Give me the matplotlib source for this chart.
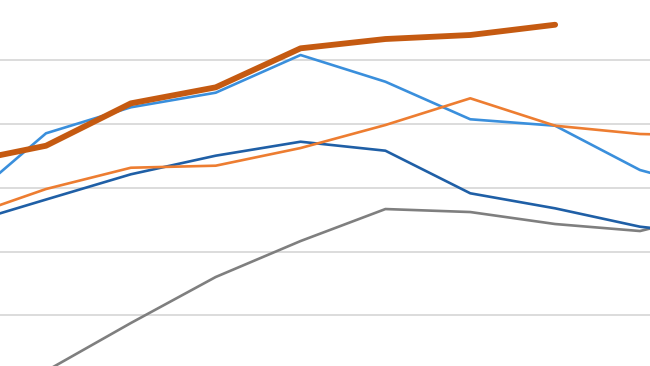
import numpy as np
import matplotlib
matplotlib.use("Agg")
import matplotlib.pyplot as plt

# category positions (the chart is cropped: first and last fall outside the view)
periods = np.arange(10)

gray_vals = [np.nan, 12.6, 87.9, 160.1, 216.5, 266.7, 262.0, 243.2, 232.2, 265.2]
dark_blue_vals = [241.6, 281.6, 321.2, 350.4, 372.3, 358.2, 291.4, 267.8, 239.0, 224.4]
orange_vals = [251.8, 298.1, 331.5, 334.7, 362.4, 398.5, 440.4, 397.4, 384.4, 381.3]
light_blue_vals = [271.5, 385.5, 426.3, 449.2, 508.3, 466.4, 407.5, 397.4, 327.9, 291.8]
thick_orange_vals = [338.9, 366.0, 432.5, 457.6, 518.8, 533.4, 539.7, 555.8, np.nan, np.nan]

grid_levels = [100, 200, 300, 400, 500]

fig = plt.figure(figsize=(6.5, 3.66), dpi=100)
ax = fig.add_axes([0, 0, 1, 1])

ax.plot(periods, gray_vals, color="#7F7F7F", lw=1.9, solid_joinstyle="round")
ax.plot(periods, dark_blue_vals, color="#1F5FA6", lw=1.9, solid_joinstyle="round")
ax.plot(periods, light_blue_vals, color="#3A8FDC", lw=1.9, solid_joinstyle="round")
ax.plot(periods, orange_vals, color="#ED7D31", lw=1.9, solid_joinstyle="round")
ax.plot(periods, thick_orange_vals, color="#C55A11", lw=4.2,
        solid_joinstyle="round", solid_capstyle="round")

ax.set_xlim(0.458, 8.118)
ax.set_ylim(20.5, 594.6)
ax.set_yticks(grid_levels)
ax.grid(axis="y", color="#D9D9D9", lw=1.3)
ax.set_axisbelow(True)
ax.tick_params(left=False, bottom=False, labelleft=False, labelbottom=False)
for s in ax.spines.values():
    s.set_visible(False)

fig.savefig("out.png", dpi=100)
